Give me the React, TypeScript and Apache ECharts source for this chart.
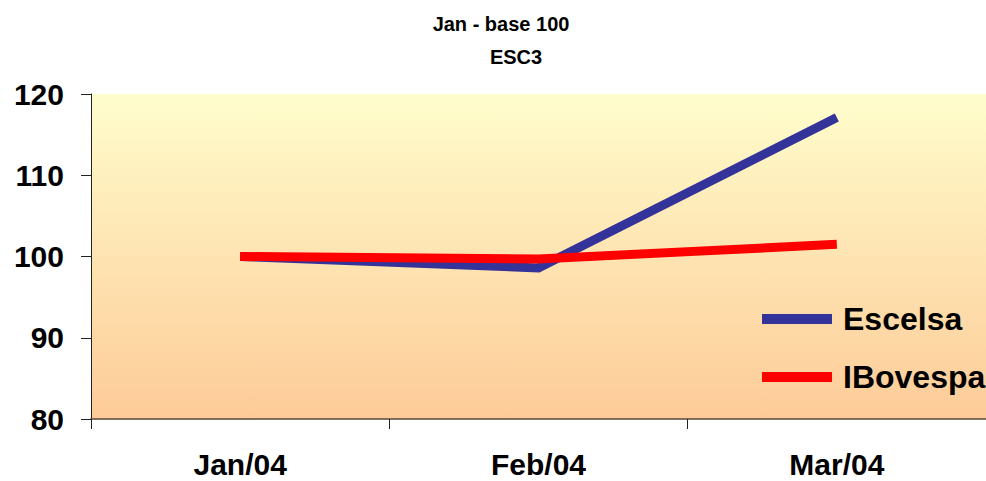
import React, { useEffect, useRef } from "react";
import * as echarts from "echarts";

const categories = ["Jan/04", "Feb/04", "Mar/04"];
const escelsa = [100, 98.6, 117.1];
const ibovespa = [100, 99.7, 101.5];
const titleText = "Jan - base 100";
const subtitleText = "ESC3";

const FONT = "'Liberation Sans', Arial, Helvetica, sans-serif";

export default function App() {
  const ref = useRef<HTMLDivElement>(null);
  useEffect(() => {
    if (!ref.current) return;
    const chart = echarts.init(ref.current, null, { renderer: "svg" });
    chart.setOption({
      animation: false,
      backgroundColor: "#ffffff",
      title: [
        {
          text: titleText,
          left: 501,
          top: 14,
          textAlign: "center",
          padding: 0,
          textStyle: { fontFamily: FONT, fontSize: 20, fontWeight: "bold", color: "#000" },
        },
        {
          text: subtitleText,
          left: 516,
          top: 47,
          textAlign: "center",
          padding: 0,
          textStyle: { fontFamily: FONT, fontSize: 20, fontWeight: "bold", color: "#000" },
        },
      ],
      legend: {
        orient: "vertical",
        left: 762,
        top: 299,
        padding: 0,
        itemWidth: 70,
        itemHeight: 10,
        itemGap: 18,
        icon: "rect",
        textStyle: {
          fontFamily: FONT,
          fontSize: 32,
          fontWeight: "bold",
          color: "#000",
          lineHeight: 40,
          padding: [0, 0, 0, 6],
        },
        data: ["Escelsa", "IBovespa"],
      },
      grid: {
        left: 91,
        top: 94,
        right: 0,
        bottom: 62,
        show: true,
        borderWidth: 0,
        backgroundColor: new echarts.graphic.LinearGradient(0, 0, 0, 1, [
          { offset: 0, color: "#FFFDCC" },
          { offset: 1, color: "#FDCB98" },
        ]),
      },
      xAxis: {
        type: "category",
        data: categories,
        boundaryGap: true,
        axisLine: { show: true, lineStyle: { color: "#5a4636", width: 1.5 } },
        axisTick: { show: true, length: 10, lineStyle: { color: "#222" } },
        axisLabel: {
          fontFamily: FONT,
          fontSize: 30,
          fontWeight: "bold",
          color: "#000",
          margin: 30,
        },
        splitLine: { show: false },
      },
      yAxis: {
        type: "value",
        min: 80,
        max: 120,
        interval: 10,
        axisLine: { show: true, lineStyle: { color: "#222", width: 1 } },
        axisTick: { show: true, length: 10, lineStyle: { color: "#222" } },
        axisLabel: {
          fontFamily: FONT,
          fontSize: 30,
          fontWeight: "bold",
          color: "#000",
          margin: 27,
        },
        splitLine: { show: false },
      },
      series: [
        {
          name: "Escelsa",
          type: "line",
          data: escelsa,
          symbol: "none",
          itemStyle: { color: "#333399" },
          lineStyle: { color: "#333399", width: 9, cap: "butt", join: "miter" },
        },
        {
          name: "IBovespa",
          type: "line",
          data: ibovespa,
          symbol: "none",
          itemStyle: { color: "#FF0000" },
          lineStyle: { color: "#FF0000", width: 9, cap: "butt", join: "miter" },
        },
      ],
    });
    return () => chart.dispose();
  }, []);
  return (
    <div
      ref={ref}
      style={{ position: "fixed", left: 0, top: 0, width: 986, height: 481 }}
    />
  );
}
